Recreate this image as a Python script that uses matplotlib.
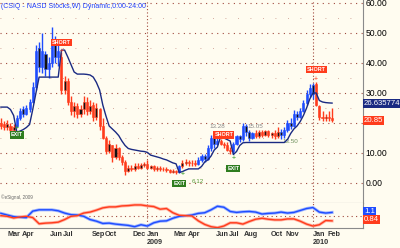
import numpy as np
import pandas as pd
import matplotlib
matplotlib.use("Agg")
import matplotlib.pyplot as plt

# weekly bars, CSIQ
weeks = pd.date_range("2008-02-15", periods=105, freq="W-FRI")

opens = [20, 19.5, 18.5, 19, 17.5, 19, 21.5, 24.5, 23, 24.5,
         27, 32, 45, 38.5, 43, 38, 40, 47, 42, 42,
         31, 34, 27, 24, 25.5, 23, 24.5, 27, 24, 26,
         22, 24.5, 19, 15, 10.5, 12.5, 8.5, 11.5, 8.5, 7,
         4, 5, 4.5, 5.5, 5, 6, 6.3, 5, 5.5, 4.5,
         5, 4.5, 4.8, 4.2, 3.8, 4, 3.6, 5.5, 6.5, 7,
         6.5, 6.8, 6.3, 7.5, 9, 8, 11.5, 15, 13, 14,
         13, 12.5, 11, 10.5, 13, 15.5, 14.5, 19, 17, 15,
         16.5, 15.5, 17, 16, 17.2, 16, 16.5, 15.5, 17, 16,
         17.5, 20, 19, 23, 22, 24, 26.5, 29.5, 32.5, 33,
         25.5, 22, 21.5, 22, 21.5]
highs = [21.5, 20.5, 21, 20, 19.5, 22.5, 25, 25.5, 26, 28,
         33.5, 46, 47, 50, 44, 42, 52, 49, 46, 43.5,
         35.5, 35, 29, 27, 26.5, 26, 29, 28.5, 27.5, 27,
         26.5, 25, 21.5, 15.5, 14.3, 12.7, 13, 12, 9.3, 7.5,
         6, 6, 6.5, 6.5, 6.7, 7, 7.5, 6, 6, 5.5,
         5.5, 5.3, 5.2, 4.8, 4.5, 4.3, 6, 7.5, 8, 7.8,
         7.5, 7.5, 8.5, 9.5, 9.5, 12.5, 16, 15.5, 15, 14.5,
         13.5, 13.5, 12, 13.5, 16, 16, 20, 19.5, 17.5, 17,
         17.5, 17.5, 17.8, 17.7, 17.5, 17, 17.5, 18.5, 18, 18.5,
         21, 21.5, 24.3, 24, 25, 27.7, 31, 33, 33.3, 33.5,
         26, 24, 23, 24, 25]
lows = [18, 17.5, 17.5, 16.5, 16, 18.5, 21, 22, 22.5, 23.5,
        26.5, 31, 37, 36.5, 35.5, 35, 38.5, 40, 39, 29.5,
        29.5, 26, 22.5, 22, 21.5, 22, 23, 22.5, 23, 20.5,
        21, 17.5, 14.5, 9.5, 10, 7, 8, 7.5, 6, 2.7,
        3.5, 4, 4, 4.5, 4.5, 5.3, 4.5, 4.5, 4, 4,
        4, 4, 3.7, 3.3, 3.2, 2.9, 3.4, 5, 6, 5.8,
        5.5, 5.5, 6, 7, 7, 7.5, 10.5, 11.5, 12.5, 12.5,
        11.5, 10.5, 9.5, 9.5, 12.5, 13.5, 14, 15.5, 14, 14.5,
        15, 15, 15.3, 15.5, 15.3, 15, 14.5, 15, 14.5, 15,
        17, 18, 18.5, 21, 21.5, 23.5, 26, 28.5, 28, 25.5,
        21, 20.5, 20.5, 20.5, 20.3]
closes = [19, 18.5, 19.5, 17.5, 18.5, 21.5, 24, 23, 25, 27,
          32, 44, 38.5, 44, 38, 40, 47, 42, 44, 31,
          34, 27, 24, 25.5, 23, 24.5, 27, 24, 25.5, 22,
          25, 19, 15, 10.5, 13, 8.5, 11.5, 8.5, 7, 4,
          5, 4.5, 5.5, 5, 6, 6.3, 5, 5.5, 4.5, 5,
          4.5, 4.8, 4.2, 3.8, 4, 3.5, 5.5, 6.5, 7, 6.5,
          6.8, 6.3, 7.5, 9, 8, 11.5, 15, 13, 14, 13,
          12.5, 11, 10.5, 13, 15.5, 14.5, 19, 17, 15, 16.5,
          15.5, 17, 16, 17.2, 16, 16.5, 15.5, 17, 16, 17.5,
          20, 19, 23, 22, 24, 26.5, 29.5, 31.5, 29.5, 26,
          22, 21.5, 22, 21.5, 20.85]
# trend state per bar: b = long, r = short
trend = list("rrrrr" + "b" * 14 + "r" * 37 + "b" + "rrrrr" + "b" * 7 + "rrrr"
             + "b" * 7 + "r" * 8 + "b" * 11 + "r" * 6)
stop = [25.3, 25.3, 25.3, 24.5, 22.5, 17, 17.3, 17.8, 18.5, 19.5,
        24.5, 30, 35.3, 35.3, 35.3, 35.3, 35.3, 35.3, 35.3, 44.3,
        44.3, 42, 39.5, 37, 36.3, 36.3, 36.3, 36.2, 36, 35.3,
        33.5, 31, 26, 22.3, 19, 18, 17, 15.8, 14, 12.5,
        11.5, 11.2, 11, 10.8, 10.6, 10.5, 10.2, 9.3, 9, 8.7,
        8.4, 8, 7.7, 7.2, 6.7, 6.4, 3.5, 3.8, 4.3, 4.7,
        4.7, 4.7, 4.7, 5.5, 7, 7.7, 9, 11, 12, 15.5,
        15, 14.5, 14, 9.5, 10.5, 12.5, 13.4, 13.5, 13.5, 13.5,
        13.5, 13.5, 13.5, 13.5, 13.5, 13.5, 13.5, 13.5, 13.5, 13.5,
        14.5, 16.5, 18, 19, 20.5, 22.5, 25, 28, 30, 30,
        27.5, 27, 26.8, 26.7, 26.635774]

# lower study, every second bar
osc_blue = [1.07, 1.02, 0.97, 0.95, 0.94, 1.14, 1.18, 1.18, 1.18, 1.15,
            1.08, 1.03, 1.02, 0.98, 0.88, 0.83, 0.76, 0.77, 0.74, 0.72,
            0.70, 0.66, 0.72, 0.68, 0.78, 0.83, 0.84, 0.92, 0.98, 1.00,
            1.02, 1.07, 1.09, 1.18, 1.29, 1.26, 1.13, 1.10, 1.12, 1.13,
            1.11, 1.05, 1.07, 1.08, 1.11, 1.08, 1.10, 1.16, 1.22, 1.25,
            1.11, 1.08, 1.10]
osc_red = [1.00, 0.98, 0.93, 0.96, 0.98, 0.94, 0.75, 0.77, 0.78, 0.80,
           0.88, 0.98, 1.00, 1.08, 1.11, 1.17, 1.24, 1.27, 1.27, 1.30,
           1.31, 1.33, 1.33, 1.30, 1.28, 1.20, 1.22, 1.09, 1.01, 1.00,
           0.99, 0.84, 0.73, 0.66, 0.63, 0.68, 0.78, 0.78, 0.74, 0.82,
           0.89, 0.92, 0.89, 0.87, 0.87, 0.90, 0.90, 0.83, 0.74, 0.68,
           0.72, 0.85, 0.84]
osc_weeks = weeks[::2]

price_ticks = [0, 10, 20, 30, 40, 50, 60]
price_labels = ["0.00", "10.00", "", "30.00", "40.00", "50.00", "60.00"]  # 20.00 sits under the close box
month_ticks = ["2008-03-01", "2008-04-01", "2008-06-01", "2008-07-01", "2008-09-01",
               "2008-10-01", "2008-12-01", "2009-01-01", "2009-03-01", "2009-04-01",
               "2009-06-01", "2009-07-01", "2009-08-01", "2009-10-01", "2009-11-01",
               "2010-01-01", "2010-02-01"]
month_labels = ["Mar", "Apr", "Jun", "Jul", "Sep", "Oct", "Dec", "Jan", "Mar", "Apr",
                "Jun", "Jul", "Aug", "Oct", "Nov", "Jan", "Feb"]

BG = "#fffcf0"
BLUE = "#1e4cff"
RED = "#ff3c1c"
NAVY = "#1a2a82"
GRID = "#a0483c"
GREEN = "#2f7d1f"
plt.rcParams["font.family"] = ["Liberation Sans", "DejaVu Sans"]

fig = plt.figure(figsize=(4.0, 2.48), dpi=100, facecolor=BG)
ax = fig.add_axes([0, 45 / 248, 363 / 400, 203 / 248], facecolor=BG)
ax2 = fig.add_axes([0, 20 / 248, 363 / 400, 25 / 248], facecolor=BG, sharex=ax)

ax.set_xlim(pd.Timestamp("2008-02-13"), pd.Timestamp("2010-04-21"))
ax.set_ylim(-6.67, 61)

# grid
for v in range(0, 61, 10):
    ax.axhline(v, color=GRID, lw=0.8, ls=(0, (1, 4)), zorder=0)
for v in range(5, 60, 10):
    ax.axhline(v, color=GRID, lw=0.6, ls=(0, (1, 14)), alpha=0.6, zorder=0)
for d in ["2009-01-01", "2010-01-01"]:
    ax.axvline(pd.Timestamp(d), color=GRID, lw=0.8, ls=(0, (1, 2)), zorder=0)
    ax2.axvline(pd.Timestamp(d), color=GRID, lw=0.8, ls=(0, (1, 2)), zorder=0)

# candles
o = np.array(opens); h = np.array(highs); l = np.array(lows); c = np.array(closes)
cols = np.array([BLUE if t == "b" else RED for t in trend])
black = np.array([(t == "b" and cc < oo) or (t == "r" and cc > oo)
                  for t, oo, cc in zip(trend, o, c)])
ax.vlines(weeks, l, h, colors=cols, lw=1.0, zorder=2)
body_lo = np.minimum(o, c)
body_h = np.maximum(np.abs(c - o), 0.3)
face = np.where(black, "#111111", cols)
ax.bar(weeks, body_h, bottom=body_lo, width=4.6, color=face, edgecolor=cols,
       linewidth=0.4, zorder=3)

ax.plot(weeks, stop, color=NAVY, lw=1.0, zorder=4)

# signals
def tag(i, v, txt, fc):
    ax.text(weeks[i], v, txt, color="white", fontsize=3.9, fontweight="bold",
            ha="center", va="center", zorder=6,
            bbox=dict(boxstyle="square,pad=0.2", fc=fc, ec="none"))

tag(19, 46.7, "SHORT", RED)
tag(70, 16, "SHORT", RED)
tag(99, 37.7, "SHORT", RED)
tag(5, 16, "EXIT", GREEN)
tag(56, -0.3, "EXIT", GREEN)
tag(73, 4.7, "EXIT", GREEN)
ax.text(weeks[19], 43.8, "+", color=RED, fontsize=5, ha="center", va="center", zorder=6)
ax.text(weeks[99], 34.6, "+", color=RED, fontsize=5, ha="center", va="center", zorder=6)
for i, v in [(5, 18.3), (57, 2.7), (73, 8.3)]:
    ax.text(weeks[i], v, "+", color="#2f9a1f", fontsize=5, ha="center", va="center", zorder=6)
ax.text(weeks[60], 0.6, "6.12", color="#5a9a3a", fontsize=4.5, ha="left", va="center")
ax.text(weeks[68], 18.8, "13.28", color="#888888", fontsize=4.5, ha="center", va="center")
ax.text(weeks[80], 18.8, "15.05", color="#888888", fontsize=4.5, ha="center", va="center")
ax.text(weeks[91], 13.9, "13.50", color="#6b8e5a", fontsize=4.5, ha="center", va="center")

ax.text(0.003, 0.985, "(CSIQ - NASD Stocks,W) Dynamic,0:00-24:00", transform=ax.transAxes,
        color="#2040ff", fontsize=5.05, ha="left", va="top")
ax.text(0.003, 0.015, "\u00a9eSignal, 2009", transform=ax.transAxes,
        color="#666666", fontsize=3.3, ha="left", va="bottom")

# right axis
ax.yaxis.tick_right()
ax.set_yticks(price_ticks)
ax.set_yticklabels(price_labels, fontsize=6.2)
ax.tick_params(axis="y", length=0, pad=2)
ax.tick_params(axis="x", length=0, labelbottom=False)
yt = ax.get_yaxis_transform()
ax.text(1.003, stop[-1], f"{stop[-1]:.6f}", transform=yt,
        color="white", fontsize=5.6, ha="left", va="center", zorder=7, clip_on=False,
        bbox=dict(boxstyle="square,pad=0.12", fc=NAVY, ec="none"))
ax.text(1.003, closes[-1], f"{closes[-1]:.2f}", transform=yt,
        color="white", fontsize=5.6, ha="left", va="center", zorder=7, clip_on=False,
        bbox=dict(boxstyle="square,pad=0.12", fc=RED, ec="none"))

for a in (ax, ax2):
    for s in ["top", "left"]:
        a.spines[s].set_visible(False)
    for s in ["right", "bottom"]:
        a.spines[s].set_color("#8a8a8a")

# lower study
ax2.set_ylim(0.62, 1.39)
ax2.axhline(1.0, color=GRID, lw=0.8, ls=(0, (1, 3)), zorder=0)
ax2.plot(osc_weeks, osc_blue, color="#9db4ff", lw=2.2, zorder=2)
ax2.plot(osc_weeks, osc_blue, color=BLUE, lw=1.0, zorder=3)
ax2.plot(osc_weeks, osc_red, color="#ffb0a0", lw=2.2, zorder=2)
ax2.plot(osc_weeks, osc_red, color=RED, lw=1.0, zorder=3)
ax2.set_yticks([])
y2t = ax2.get_yaxis_transform()
ax2.text(1.003, 1.13, f"{osc_blue[-1]:.1f}", transform=y2t, color="white", fontsize=5.6,
         ha="left", va="center", clip_on=False,
         bbox=dict(boxstyle="square,pad=0.1", fc=BLUE, ec="none"))
ax2.text(1.003, 0.89, f"{osc_red[-1]:.2f}", transform=y2t, color="white", fontsize=5.6,
         ha="left", va="center", clip_on=False,
         bbox=dict(boxstyle="square,pad=0.1", fc=RED, ec="none"))

ax2.set_xticks([pd.Timestamp(d) for d in month_ticks])
ax2.set_xticklabels(month_labels, fontsize=5.2, fontweight="bold", color="#333333", ha="left")
ax2.tick_params(axis="x", length=0, pad=2)
for yr in ["2009", "2010"]:
    ax2.text(pd.Timestamp(yr + "-01-01"), -0.58, yr, transform=ax2.get_xaxis_transform(),
             fontsize=5.2, fontweight="bold", color="#333333", ha="left", va="center")

fig.savefig("out.png", dpi=100, facecolor=BG)
